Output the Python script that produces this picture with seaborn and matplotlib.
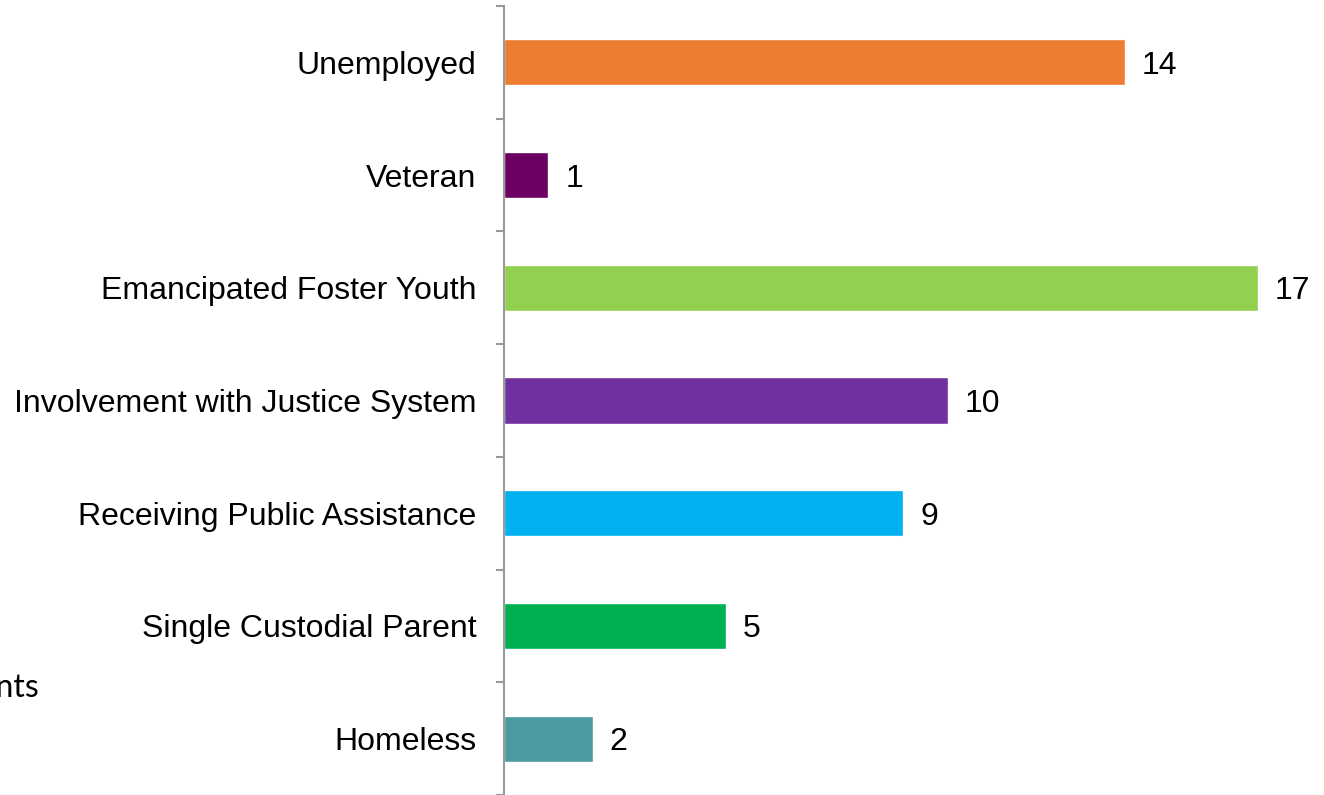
import matplotlib
matplotlib.use("Agg")
import matplotlib.pyplot as plt
import seaborn as sns
import pandas as pd
import numpy as np

categories = ["Unemployed", "Veteran", "Emancipated Foster Youth",
              "Involvement with Justice System", "Receiving Public Assistance",
              "Single Custodial Parent", "Homeless"]
values = [14, 1, 17, 10, 9, 5, 2]
colors = ["#ED7D31", "#6B0062", "#92D050", "#7030A0", "#00B0F0", "#00B050", "#4A9AA0"]

sns.set_theme(style="white")
plt.rcParams['font.family'] = ['Liberation Sans', 'DejaVu Sans']

W, H = 1324, 795
fig = plt.figure(figsize=(W / 100, H / 100), dpi=100)
left_px, top_px = 504, 6
ax = fig.add_axes([left_px / W, 0, 1 - left_px / W, (H - top_px) / H])

df = pd.DataFrame({"cat": categories, "val": values})
sns.barplot(data=df, y="cat", x="val", hue="cat", palette=colors, orient="h",
            width=0.41, legend=False, ax=ax, saturation=1)

px_per_unit = 44.36
ax.set_xlim(0, (W - left_px) / px_per_unit)
ax.set_ylim(-0.5 + (H - top_px) / 113.0, -0.5)

for i, v in enumerate(values):
    ax.text(v + 17 / px_per_unit, i, str(v), va="center_baseline", ha="left",
            fontsize=23, color="black")

ax.set_xlabel("")
ax.set_ylabel("")
ax.set_xticks([])
ax.set_yticks(range(len(categories)))
ax.set_yticklabels(categories, fontsize=23, color="black")
ax.set_yticks(np.arange(-0.5, len(categories), 1.0), minor=True)
ax.tick_params(axis="y", which="major", length=0, pad=20)
ax.tick_params(axis="y", which="minor", length=6, width=1.5, color="#999999", left=True)
for s in ["top", "right", "bottom"]:
    ax.spines[s].set_visible(False)
ax.spines["left"].set_color("#999999")
ax.spines["left"].set_linewidth(1.5)

fig.text(40 / W, 1 - 688 / H, "Students", ha="right", va="center", fontsize=23,
         family=["Lato", "DejaVu Sans"], color="black")

fig.savefig("out.png", dpi=100)
